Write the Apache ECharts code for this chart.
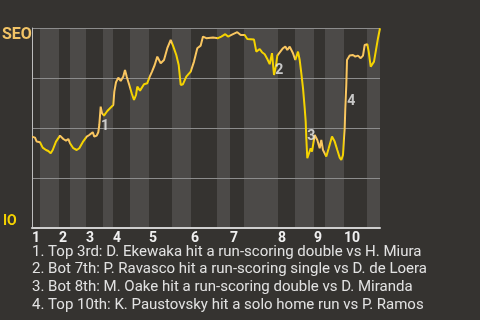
<!DOCTYPE html>
<html><head><meta charset="utf-8">
<script src="https://cdn.jsdelivr.net/npm/echarts@6/dist/echarts.min.js"></script>
<style>html,body{margin:0;padding:0;background:#353330;}#c{width:480px;height:320px;}</style>
</head><body><div id="c"></div>
<script>
const innings = ['1','2','3','4','5','6','7','8','9','10'];
const inningStart = [0, 27, 54, 81, 117, 159, 198, 246, 282, 312];
const bottomHalf = [[8,27],[38,54],[71,81],[98,117],[140,159],[185,198],[212,246],[263,282],[293,312],[335,348]];
const playX = [0,3,4.7,8,10.7,14,16.3,18.7,20.7,24,28,31.3,34,36.3,38,41.3,44.7,47.3,50.7,54.7,57.3,59,60.7,62.3,64.7,66.3,67.3,68.7,70,72,75.3,78,81.3,82.3,84,86.3,88.7,91.3,93,94.7,97.3,99.7,102,104,105.3,108,112,115.3,117.3,
120,122.7,125.3,128.7,132,135.3,138.7,141,144.3,146.7,148.7,151,154.3,158.7,162,165.3,168.7,171,174.3,181,186,189.3,193.3,196,201,205.3,208.7,212.7,215.3,222,224.3,227.7,230,232.7,235.3,237.7,240,242,244,245.3,
251,253.3,255.3,257.7,261,263.3,266,267.7,269.3,271,272.7,273.7,274.3,275.3,276.7,278.7,280,282.7,285.3,287.7,289.3,291,294.3,296.7,300,302.7,305.3,307.7,309.3,311,312,312.7,313.3,314.3,315,317.7,321,323.3,326,328.7,331,332.7,335.3,336.7,338.7,340,342,344.3,346,348];
const seoWinPct = [45.7,45.2,43.2,42.9,40.2,39,38.5,37.4,39,43.2,46.2,44.5,43.7,44.5,42.4,39.9,39,39.9,42.9,45.7,46.5,46,47.9,45.7,46.2,47.9,51.5,60.7,57.4,56.2,58.5,59.9,61.5,68.2,72.9,75.2,73.5,75.7,79,75.7,71.5,67.4,64,66.5,70.7,68.7,71.9,72.4,75.2,
78.2,81.5,85.7,82.4,84,89.9,94,91.2,86.5,81.5,71.5,71.9,75.7,78.2,83.2,89.9,91.2,95.7,94.9,95.2,94.9,95.7,96.9,95.7,96.9,97.9,96.5,96.5,94.5,94.2,88.2,89.5,87.9,86.9,84.5,81.9,87.4,76.5,81.2,86.2,
89.9,90.7,89,90.7,87.4,84,88.2,84,77.4,69.9,59.9,53.2,44.9,34.9,34,39.9,38.2,46.5,44,39.9,44,39,35.7,39.9,45.7,43.2,39,35.2,34,36.5,44.9,49.9,59.9,71.5,84,86.2,86.5,85.7,86.2,84.9,86.2,91.5,91.9,88.2,80.7,79.9,83.2,89.9,94.9,99.9];
const noteX = [73, 247.3, 279.3, 319.3];
const noteY = [51, 78.6, 45.7, 63.5];
const noteLabel = ['1','2','3','4'];
const notes = [
  '1. Top 3rd: D. Ekewaka hit a run-scoring double vs H. Miura',
  '2. Bot 7th: P. Ravasco hit a run-scoring single vs D. de Loera',
  '3. Bot 8th: M. Oake hit a run-scoring double vs D. Miranda',
  '4. Top 10th: K. Paustovsky hit a solo home run vs P. Ramos'
];
const teamTop = 'SEO', teamBottom = 'IO';

const ORANGE = '#f9c660', YELLOW = '#f5d300';
const pieces = [];
bottomHalf.forEach((b, i) => {
  pieces.push({gte: inningStart[i], lt: b[0], color: ORANGE});
  pieces.push({gte: b[0], lt: (i + 1 < inningStart.length ? inningStart[i + 1] : 9999), color: YELLOW});
});

const chart = echarts.init(document.getElementById('c'), null, {renderer: 'canvas'});
const font = 'Roboto, "Noto Sans", sans-serif';
chart.setOption({
  backgroundColor: '#353330',
  animation: false,
  grid: {left: 32, right: 100, top: 28, bottom: 92},
  xAxis: {
    type: 'value', min: 0, max: 348, z: 3,
    axisLine: {show: true, onZero: false, lineStyle: {color: '#cfcfcf', width: 2}},
    axisTick: {show: false},
    splitLine: {show: false},
    axisLabel: {
      customValues: inningStart,
      formatter: v => innings[inningStart.indexOf(v)] || '',
      color: '#f0f0f0', fontFamily: font, fontWeight: 'bold', fontSize: 14,
      align: 'left', margin: 3
    }
  },
  yAxis: {
    type: 'value', min: 0, max: 100, interval: 25, z: 3,
    axisLine: {show: true, lineStyle: {color: '#bdbdbd', width: 1}},
    axisTick: {show: false},
    axisLabel: {show: false},
    splitLine: {show: true, lineStyle: {color: '#8c8c8c', width: 1}}
  },
  visualMap: {show: false, type: 'piecewise', dimension: 0, seriesIndex: 1, pieces: pieces},
  series: [
    {
      type: 'custom', z: 1, silent: true,
      data: bottomHalf,
      encode: {x: [0, 1]},
      renderItem: (params, api) => {
        const p0 = api.coord([api.value(0), 100]);
        const p1 = api.coord([api.value(1), 0]);
        return {type: 'rect', shape: {x: p0[0], y: p0[1], width: p1[0] - p0[0], height: p1[1] - p0[1]},
                style: {fill: '#4c4a48'}};
      }
    },
    {
      type: 'line', z: 5, showSymbol: false, symbol: 'none',
      data: playX.map((x, i) => [x, seoWinPct[i]]),
      lineStyle: {width: 2}
    },
    {
      type: 'scatter', z: 6, symbolSize: 0,
      data: noteX.map((x, i) => [x, noteY[i], noteLabel[i]]),
      label: {show: true, position: 'inside', formatter: p => p.value[2],
              color: '#eeeeee', fontFamily: font, fontWeight: 'bold', fontSize: 14}
    }
  ],
  graphic: [
    {type: 'text', left: 2, top: 27, style: {text: teamTop, fill: '#f2c466', font: 'bold 16px ' + font}},
    {type: 'text', left: 3, top: 214, style: {text: teamBottom, fill: '#f5d300', font: 'bold 14px ' + font}}
  ].concat(notes.map((t, i) => ({
    type: 'text', left: 32, top: 244.5 + i * 17.6,
    style: {text: t, fill: '#e2e2e2', font: '15px ' + font}
  })))
});
</script></body></html>
